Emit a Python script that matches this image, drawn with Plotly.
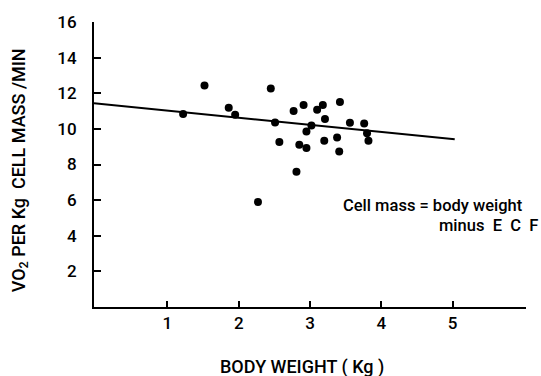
import plotly.graph_objects as go

# Data
body_weight = [1.22, 1.52, 1.86, 1.95, 2.45, 2.51, 2.57, 2.27, 2.77, 2.91, 2.85, 2.95, 2.95,
               2.81, 3.02, 3.10, 3.18, 3.21, 3.20, 3.42, 3.38, 3.41, 3.56, 3.76, 3.80, 3.82]
vo2 = [10.83, 12.44, 11.19, 10.79, 12.26, 10.36, 9.26, 5.90, 11.01, 11.34, 9.11, 8.93, 9.85,
       7.60, 10.19, 11.07, 11.34, 10.56, 9.33, 11.51, 9.52, 8.73, 10.34, 10.30, 9.75, 9.33]
fit_x = [-0.03, 5.03]
fit_y = [11.44, 9.42]
x_ticks = [1, 2, 3, 4, 5]
y_ticks = [2, 4, 6, 8, 10, 12, 14, 16]

FONT = "Roboto, DejaVu Sans, sans-serif"
W = 500

fig = go.Figure()
fig.add_trace(go.Scatter(x=fit_x, y=fit_y, mode="lines",
                         line=dict(color="black", width=2), hoverinfo="skip"))
fig.add_trace(go.Scatter(x=body_weight, y=vo2, mode="markers",
                         marker=dict(color="black", size=8)))

fig.update_layout(
    width=541, height=376,
    margin=dict(l=94, r=15, t=15, b=69),
    paper_bgcolor="white", plot_bgcolor="white",
    showlegend=False,
    font=dict(family=FONT, size=17, color="black", weight=W),
    xaxis=dict(range=[-0.03, 6.03], tickvals=x_ticks, ticktext=[str(v) for v in x_ticks],
               showline=True, linecolor="black", linewidth=2, ticks="inside",
               ticklen=6, tickwidth=1.5, tickcolor="black", showgrid=False, zeroline=False,
               tickfont=dict(family=FONT, size=17, weight=W)),
    yaxis=dict(range=[0, 16], tickvals=y_ticks, ticktext=[str(v) for v in y_ticks],
               showline=True, linecolor="black", linewidth=2, ticks="inside",
               ticklen=7, tickwidth=1.5, tickcolor="black", showgrid=False, zeroline=False,
               ticklabelstandoff=12, tickfont=dict(family=FONT, size=17, weight=W)),
    annotations=[
        dict(text="BODY WEIGHT ( Kg )", xref="paper", yref="paper",
             x=(302 - 94) / (526 - 94), y=-(368 - 307) / (307 - 15),
             xanchor="center", yanchor="middle", showarrow=False,
             font=dict(family=FONT, size=18, weight=W)),
        dict(text="VO<sub>2</sub> PER Kg  CELL MASS /MIN", xref="paper", yref="paper",
             x=-(94 - 20) / (526 - 94), y=(307 - 167) / (307 - 15), textangle=-90,
             xanchor="center", yanchor="middle", showarrow=False,
             font=dict(family=FONT, size=18, weight=W)),
        dict(text="Cell mass = body weight", xref="paper", yref="paper",
             x=(341 - 94) / (526 - 94), y=(307 - 203) / (307 - 15),
             xanchor="left", yanchor="middle", showarrow=False,
             font=dict(family=FONT, size=16.5, weight=W)),
        dict(text="minus  E  C  F", xref="paper", yref="paper",
             x=(437 - 94) / (526 - 94), y=(307 - 224) / (307 - 15),
             xanchor="left", yanchor="middle", showarrow=False,
             font=dict(family=FONT, size=16.5, weight=W)),
    ],
)

fig.write_html("out.html")
